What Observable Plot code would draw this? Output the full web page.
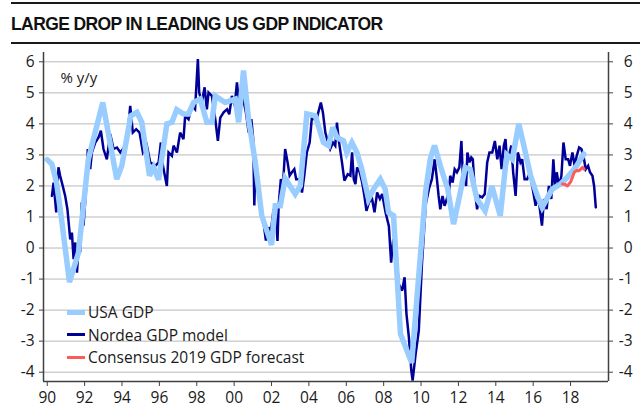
<!DOCTYPE html>
<html>
<head>
<meta charset="utf-8">
<script src="https://cdn.jsdelivr.net/npm/d3@7"></script>
<script src="https://cdn.jsdelivr.net/npm/@observablehq/plot@0.6"></script>
<style>
  html, body { margin: 0; padding: 0; background: #fff; }
  #wrap { position: relative; width: 640px; height: 414px; overflow: hidden; font-family: "Open Sans", sans-serif; }
  #topline { position: absolute; left: 11px; top: 2px; width: 629px; height: 2px; background: #1a1a1a; }
  #botline { position: absolute; left: 11px; top: 42px; width: 629px; height: 2px; background: #1a1a1a; }
  #title { position: absolute; left: 11px; top: 13.5px; line-height: 20px; font-family: "Liberation Sans", Arial, sans-serif; font-weight: bold; font-size: 17.5px; letter-spacing: -0.6px; color: #111; white-space: nowrap; }
  #chart { position: absolute; left: 0; top: 45px; }
  #legend { position: absolute; left: 67px; top: 301px; font-size: 15.5px; color: #1a1a1a; }
  .row { position: relative; height: 22.5px; line-height: 22.5px; padding-left: 21px; white-space: nowrap; }
  .sw { position: absolute; left: 0; width: 18px; }
</style>
</head>
<body>
<div id="wrap">
  <div id="topline"></div>
  <div id="title">LARGE DROP IN LEADING US GDP INDICATOR</div>
  <div id="botline"></div>
  <div id="chart"></div>
  <div id="legend"></div>
</div>
<script>
// ---- data ----
const seriesNames = ["USA GDP", "Nordea GDP model", "Consensus 2019 GDP forecast"];
const seriesColors = ["#99ccff", "#000099", "#ff5a5a"];

const usaYears = [1990.0, 1990.25, 1990.5, 1990.75, 1991.19, 1991.67, 1992.2, 1992.97, 1993.72, 1993.99,
  1994.47, 1994.8, 1995.06, 1995.47, 1995.69, 1995.96, 1996.4, 1996.67, 1996.93, 1997.29,
  1997.56, 1997.83, 1998.19, 1998.54, 1998.81, 1998.99, 1999.52, 2000.06, 2000.24, 2000.5,
  2000.77, 2001.13, 2001.48, 2002.0, 2002.2, 2002.47, 2002.73, 2003.27, 2003.54, 2003.89,
  2004.34, 2004.78, 2005.05, 2005.28, 2005.5, 2005.85, 2006.03, 2006.3, 2006.57, 2006.83,
  2007.19, 2007.46, 2007.82, 2008.08, 2008.26, 2008.53, 2008.64, 2008.9, 2009.5, 2010.24,
  2010.49, 2010.72, 2011.03, 2011.43, 2011.74, 2012.1, 2012.36, 2012.63, 2012.99, 2013.43,
  2013.79, 2014.24, 2014.5, 2014.6, 2014.88, 2015.23, 2015.5, 2015.86, 2016.22, 2016.48,
  2017.02, 2017.46, 2017.82, 2018.27, 2018.71];
const usaValues = [2.85, 2.7, 2.1, 1.0, -1.1, -0.15, 2.86, 4.69, 2.22, 2.65,
  4.26, 4.37, 4.05, 2.33, 2.6, 2.2, 4.0, 4.05, 4.46, 4.32,
  4.32, 4.69, 4.8, 4.05, 4.05, 4.9, 4.69, 4.8, 4.05, 5.72,
  4.16, 2.76, 1.04, 0.1, 1.36, 1.36, 2.24, 1.74, 2.0, 4.32,
  4.26, 3.4, 3.3, 3.89, 3.56, 3.46, 3.08, 3.4, 3.08, 2.54,
  1.58, 1.9, 2.22, 1.9, 1.15, 1.04, -0.1, -2.77, -3.7, 1.8,
  2.86, 3.3, 2.65, 1.9, 0.77, 1.79, 2.6, 2.54, 1.58, 1.2,
  2.0, 1.04, 2.54, 3.0, 2.86, 4.0, 3.3, 2.33, 1.68, 1.31,
  1.9, 2.06, 2.27, 2.6, 3.03];

const modelYears = [1990.25, 1990.34, 1990.48, 1990.6, 1990.69, 1990.83, 1990.96, 1991.08, 1991.23, 1991.32,
  1991.41, 1991.5, 1991.59, 1991.68, 1991.76, 1991.85, 1991.94, 1992.09, 1992.17, 1992.3,
  1992.39, 1992.57, 1992.75, 1992.87, 1993.01, 1993.19, 1993.37, 1993.55, 1993.73, 1993.91,
  1994.05, 1994.26, 1994.44, 1994.58, 1994.76, 1994.94, 1995.12, 1995.33, 1995.51, 1995.78,
  1995.96, 1996.08, 1996.19, 1996.4, 1996.49, 1996.67, 1996.76, 1996.94, 1997.11, 1997.29,
  1997.38, 1997.56, 1997.74, 1997.91, 1998.06, 1998.13, 1998.27, 1998.42, 1998.54, 1998.63,
  1998.81, 1998.99, 1999.13, 1999.26, 1999.44, 1999.62, 1999.74, 1999.88, 2000.03, 2000.15,
  2000.24, 2000.42, 2000.63, 2000.78, 2000.92, 2001.02, 2001.08, 2001.14, 2001.23, 2001.51,
  2001.6, 2001.7, 2001.86, 2001.96, 2002.11, 2002.25, 2002.32, 2002.38, 2002.5, 2002.61,
  2002.73, 2002.86, 2002.97, 2003.09, 2003.22, 2003.32, 2003.5, 2003.63, 2003.75, 2003.89,
  2004.04, 2004.16, 2004.29, 2004.43, 2004.64, 2004.75, 2004.88, 2005.0, 2005.14, 2005.29,
  2005.41, 2005.5, 2005.59, 2005.77, 2005.9, 2006.08, 2006.22, 2006.31, 2006.4, 2006.49,
  2006.58, 2006.72, 2006.85, 2006.97, 2007.08, 2007.21, 2007.38, 2007.51, 2007.65, 2007.8,
  2007.92, 2008.1, 2008.28, 2008.4, 2008.51, 2008.62, 2008.81, 2008.99, 2009.12, 2009.22,
  2009.35, 2009.48, 2009.55, 2009.71, 2009.88, 2010.05, 2010.25, 2010.44, 2010.58, 2010.73,
  2010.85, 2010.94, 2011.03, 2011.15, 2011.26, 2011.38, 2011.51, 2011.56, 2011.69, 2011.8,
  2011.92, 2012.05, 2012.16, 2012.23, 2012.33, 2012.41, 2012.48, 2012.59, 2012.69, 2012.77,
  2012.87, 2013.0, 2013.12, 2013.27, 2013.41, 2013.54, 2013.66, 2013.81, 2013.95, 2014.08,
  2014.2, 2014.31, 2014.43, 2014.52, 2014.6, 2014.7, 2014.83, 2014.93, 2015.06, 2015.18,
  2015.32, 2015.41, 2015.54, 2015.68, 2015.83, 2015.95, 2016.13, 2016.26, 2016.36, 2016.47,
  2016.58, 2016.72, 2016.84, 2016.97, 2017.08, 2017.17, 2017.26, 2017.38, 2017.51, 2017.62,
  2017.74, 2017.87, 2017.97, 2018.1, 2018.22, 2018.33, 2018.46, 2018.58, 2018.69, 2018.81,
  2018.94, 2019.04, 2019.17, 2019.26, 2019.35];
const modelValues = [1.68, 2.11, 1.15, 2.6, 2.33, 2.0, 1.68, 1.25, 0.28, 0.5,
  -0.36, 0.18, -0.79, 0.07, -0.14, 1.47, 0.72, 2.0, 3.19, 2.54,
  3.08, 3.4, 3.57, 3.78, 3.19, 2.86, 3.67, 3.19, 3.24, 3.08,
  3.19, 3.4, 4.58, 3.72, 3.83, 3.72, 3.08, 3.3, 2.76, 2.65,
  2.76, 3.4, 2.65, 2.0, 3.08, 2.97, 3.3, 3.08, 3.72, 3.51,
  4.26, 4.15, 4.58, 4.47, 6.09, 5.01, 4.69, 5.18, 4.47, 5.01,
  4.9, 4.15, 3.45, 4.2, 4.37, 4.47, 4.31, 4.9, 4.58, 5.34,
  4.8, 5.01, 4.37, 3.72, 4.15, 3.51, 1.37, 2.76, 2.0, 0.93,
  0.7, 0.24, 0.67, 0.5, 1.25, 0.93, 0.23, 1.36, 2.22, 2.0,
  3.19, 2.76, 2.33, 2.44, 2.54, 2.22, 2.22, 1.79, 2.33, 3.08,
  3.4, 4.2, 4.15, 4.2, 4.69, 4.37, 3.72, 3.45, 3.19, 3.4,
  3.3, 4.04, 3.51, 2.76, 2.17, 2.38, 2.33, 3.08, 2.22, 2.06,
  2.6, 2.44, 2.11, 1.68, 1.2, 1.47, 1.58, 1.15, 1.79, 1.58,
  1.74, 1.15, 0.7, -0.47, 0.28, 0.1, -1.16, -1.37, -0.94, -2.12,
  -2.88, -3.95, -4.27, -3.42, -2.66, -0.5, 1.4, 1.95, 2.22, 2.86,
  2.22, 1.68, 1.25, 1.68, 1.36, 1.58, 1.9, 2.33, 2.11, 2.54,
  2.44, 2.6, 3.45, 2.44, 2.22, 2.0, 3.08, 2.76, 2.92, 2.86,
  1.9, 1.25, 1.68, 1.63, 1.74, 2.76, 3.08, 3.08, 3.45, 2.86,
  3.3, 2.54, 3.3, 3.51, 2.76, 2.97, 3.3, 2.44, 1.68, 3.08,
  2.76, 2.86, 2.22, 2.22, 2.44, 2.0, 1.36, 1.68, 1.25, 0.72,
  1.58, 1.25, 2.0, 1.58, 2.86, 2.0, 2.44, 2.0, 2.33, 3.4,
  2.86, 2.86, 2.65, 3.08, 2.65, 2.97, 3.24, 3.19, 2.97, 2.54,
  2.65, 2.44, 2.33, 2.0, 1.31];

const consensusYears = [2017.57, 2017.7, 2017.84, 2018.02, 2018.2, 2018.33, 2018.46, 2018.64, 2018.73];
const consensusValues = [2.06, 2.05, 2.0, 2.15, 2.44, 2.5, 2.49, 2.6, 2.54];

const xTicks = [1990, 1992, 1994, 1996, 1998, 2000, 2002, 2004, 2006, 2008, 2010, 2012, 2014, 2016, 2018];
const yTicks = [-4, -3, -2, -1, 0, 1, 2, 3, 4, 5, 6];
const xDomain = [1989.8, 2020.03];
const yDomain = [-4.3, 6.3];
const unitLabel = "% y/y";

// ---- build tables ----
const usa = usaYears.map((t, i) => ({t, v: usaValues[i]}));
const model = modelYears.map((t, i) => ({t, v: modelValues[i]}));
const consensus = consensusYears.map((t, i) => ({t, v: consensusValues[i]}));

const axisColor = "#404040";
const fmtY = d => String(d);
const fmtX = d => String(d).slice(2);

const chart = Plot.plot({
  width: 640,
  height: 369,
  marginTop: 7,
  marginBottom: 33,
  marginLeft: 43,
  marginRight: 32,
  style: {fontFamily: "'Open Sans', sans-serif", fontSize: "15.5px", color: "#1a1a1a", background: "transparent"},
  x: {domain: xDomain},
  y: {domain: yDomain},
  marks: [
    Plot.gridY(yTicks, {stroke: "#b8b8b8", strokeOpacity: 1, strokeWidth: 1}),
    Plot.axisY(yTicks, {anchor: "left", tickSize: 4, tickPadding: 5, tickFormat: fmtY, stroke: axisColor, fill: "#1a1a1a", label: null}),
    Plot.axisY(yTicks, {anchor: "right", tickSize: 4, tickPadding: 20, textAnchor: "end", tickFormat: fmtY, stroke: axisColor, fill: "#1a1a1a", label: null}),
    Plot.axisX(xTicks, {anchor: "bottom", tickSize: 5, tickPadding: 5, tickFormat: fmtX, stroke: axisColor, fill: "#1a1a1a", label: null}),
    Plot.line(model, {x: "t", y: "v", stroke: seriesColors[1], strokeWidth: 2.5, strokeLinejoin: "miter", strokeMiterlimit: 3}),
    Plot.line(usa, {x: "t", y: "v", stroke: seriesColors[0], strokeWidth: 5.5, strokeLinejoin: "miter", strokeMiterlimit: 3}),
    Plot.line(consensus, {x: "t", y: "v", stroke: seriesColors[2], strokeWidth: 3}),
    Plot.ruleX([xDomain[0], xDomain[1]], {stroke: axisColor, strokeWidth: 1.5}),
    Plot.ruleY([yDomain[0]], {stroke: axisColor, strokeWidth: 1.5}),
    Plot.text([unitLabel], {frameAnchor: "top-left", dx: 17, dy: 26, lineAnchor: "middle", textAnchor: "start", fill: "#1a1a1a", fontSize: 15})
  ]
});
document.getElementById("chart").appendChild(chart);

// ---- legend ----
const legend = document.getElementById("legend");
const swHeights = [5.5, 3, 3.5];
seriesNames.forEach((name, i) => {
  const row = document.createElement("div");
  row.className = "row";
  const sw = document.createElement("span");
  sw.className = "sw";
  sw.style.height = swHeights[i] + "px";
  sw.style.top = (11.25 - swHeights[i] / 2) + "px";
  sw.style.background = seriesColors[i];
  row.appendChild(sw);
  row.appendChild(document.createTextNode(name));
  legend.appendChild(row);
});
</script>
</body>
</html>
